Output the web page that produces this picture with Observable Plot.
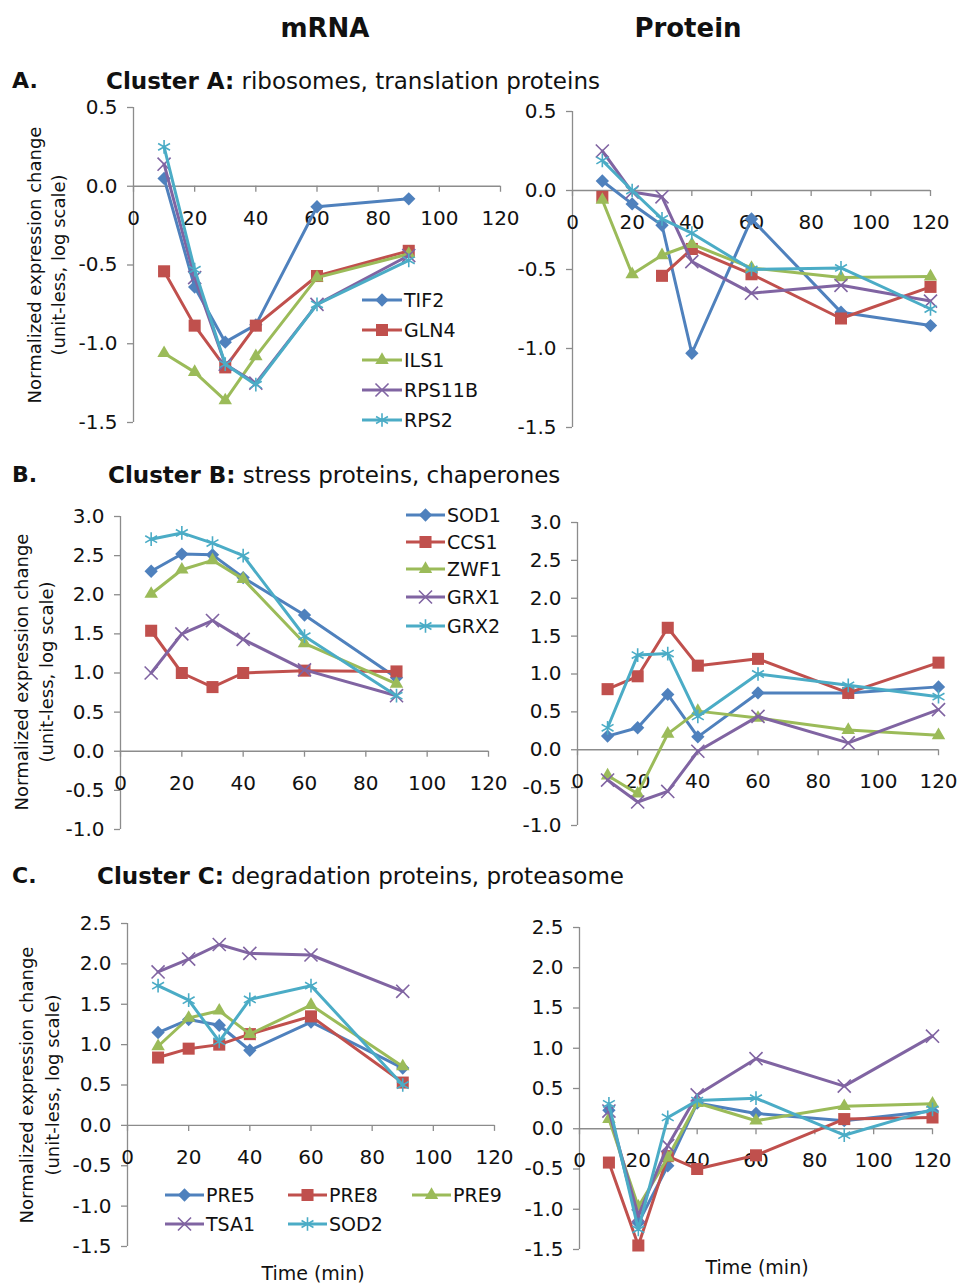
<!DOCTYPE html>
<html><head><meta charset="utf-8">
<script src="https://cdn.jsdelivr.net/npm/d3@7"></script>
<script src="https://cdn.jsdelivr.net/npm/@observablehq/plot@0.6"></script>
<style>
body{margin:0;background:#fff;}
#root{position:relative;width:958px;height:1284px;overflow:hidden;background:#fff;font-family:"DejaVu Sans",sans-serif;color:#111;}
.lbl{position:absolute;white-space:nowrap;line-height:1;}
</style></head><body><div id="root"></div>
<script>
// ---------- data ----------
const timesMrna = [10, 20, 30, 40, 60, 90];
const timesProtein = [10, 20, 30, 40, 60, 90, 120];
const xTicks = [0, 20, 40, 60, 80, 100, 120];
const genesA = ["TIF2", "GLN4", "ILS1", "RPS11B", "RPS2"];
const genesB = ["SOD1", "CCS1", "ZWF1", "GRX1", "GRX2"];
const genesC = ["PRE5", "PRE8", "PRE9", "TSA1", "SOD2"];
const seriesColors = ["#4F81BD", "#C0504D", "#9BBB59", "#8064A2", "#4BACC6"];
const seriesSymbols = ["diamond2", "square", "triangle", "times", "asterisk"];
const yTicksA = [-1.5, -1.0, -0.5, 0.0, 0.5];
const yTicksB = [-1.0, -0.5, 0.0, 0.5, 1.0, 1.5, 2.0, 2.5, 3.0];
const yTicksC = [-1.5, -1.0, -0.5, 0.0, 0.5, 1.0, 1.5, 2.0, 2.5];

// Cluster A (rows follow genesA)
const mrnaA = [
  [0.05, -0.64, -0.99, -0.88, -0.13, -0.08],
  [-0.54, -0.885, -1.15, -0.885, -0.57, -0.41],
  [-1.06, -1.18, -1.36, -1.08, -0.58, -0.43],
  [0.14, -0.58, -1.13, -1.25, -0.75, -0.44],
  [0.25, -0.53, -1.13, -1.26, -0.75, -0.47]
];
const proteinA = [
  [0.06, -0.085, -0.22, -1.03, -0.18, -0.77, -0.855],
  [-0.04, null, -0.54, -0.37, -0.53, -0.81, -0.61],
  [-0.06, -0.53, -0.41, -0.34, -0.49, -0.55, -0.545],
  [0.25, -0.01, -0.04, -0.45, -0.65, -0.60, -0.70],
  [0.19, 0.0, -0.18, -0.27, -0.50, -0.49, -0.75]
];
// Cluster B (rows follow genesB)
const mrnaB = [
  [2.30, 2.52, 2.51, 2.22, 1.74, 0.94],
  [1.54, 1.00, 0.82, 1.00, 1.03, 1.02],
  [2.01, 2.32, 2.44, 2.20, 1.38, 0.86],
  [1.00, 1.50, 1.67, 1.43, 1.04, 0.71],
  [2.71, 2.79, 2.66, 2.50, 1.47, 0.71]
];
const proteinB = [
  [0.18, 0.29, 0.73, 0.17, 0.75, 0.75, 0.83],
  [0.80, 0.97, 1.61, 1.11, 1.20, 0.75, 1.15],
  [-0.34, -0.58, 0.21, 0.51, 0.42, 0.26, 0.19],
  [-0.40, -0.69, -0.55, -0.02, 0.44, 0.09, 0.53],
  [0.29, 1.25, 1.27, 0.44, 1.00, 0.85, 0.70]
];
// Cluster C (rows follow genesC)
const mrnaC = [
  [1.15, 1.31, 1.24, 0.93, 1.28, 0.71],
  [0.84, 0.95, 1.00, 1.13, 1.35, 0.53],
  [0.98, 1.33, 1.42, 1.13, 1.49, 0.73],
  [1.90, 2.06, 2.24, 2.13, 2.11, 1.66],
  [1.73, 1.55, 1.04, 1.56, 1.73, 0.50]
];
const proteinC = [
  [0.23, -1.17, -0.46, 0.32, 0.19, 0.10, 0.22],
  [-0.42, -1.45, -0.34, -0.50, -0.33, 0.12, 0.14],
  [0.12, -0.97, -0.36, 0.32, 0.10, 0.28, 0.31],
  [0.22, -1.08, -0.21, 0.42, 0.87, 0.53, 1.15],
  [0.31, -1.25, 0.14, 0.35, 0.38, -0.08, 0.24]
];

// ---------- layout ----------
const root = document.getElementById("root");
const FONT = '"DejaVu Sans", sans-serif';
const AXIS = "#8c8c8c";
const symbolR = {diamond2: 6.0, square: 6.8, triangle: 5.0, times: 6.0, asterisk: 6.5};

function panel(frame, times, values, genes, yTicks) {
  const L = 100, R = 40, T = 30, B = 40;
  const w = frame.x1 - frame.x0, h = frame.yBot - frame.yTop;
  const yDomain = [yTicks[0], yTicks[yTicks.length - 1]];
  const tickLen = (yDomain[1] - yDomain[0]) * 6 / h;
  const marks = [
    Plot.ruleY([0], {stroke: AXIS, strokeWidth: 1.3}),
    Plot.ruleX([0], {stroke: AXIS, strokeWidth: 1.3}),
    Plot.ruleX(xTicks, {x: d => d, y1: 0, y2: -tickLen, stroke: AXIS, strokeWidth: 1.3}),
    Plot.axisY({ticks: yTicks, tickFormat: d => d.toFixed(1), tickSize: 6, tickPadding: 10,
      stroke: AXIS, strokeWidth: 1.3, fill: "#111", label: null}),
    Plot.text(xTicks, {x: d => d, y: 0, dy: 32, text: d => String(d), fill: "#111"})
  ];
  genes.forEach((g, i) => {
    const rows = times.map((t, j) => ({t, v: values[i][j] == null ? NaN : values[i][j], gene: g}));
    const sym = seriesSymbols[i];
    const stroked = sym === "times" || sym === "asterisk";
    marks.push(Plot.line(rows, {x: "t", y: "v", stroke: seriesColors[i], strokeWidth: 3}));
    marks.push(Plot.dot(rows.filter(d => !isNaN(d.v)), {
      x: "t", y: "v", symbol: sym, r: symbolR[sym],
      fill: stroked ? "none" : seriesColors[i],
      stroke: stroked ? seriesColors[i] : "none",
      strokeWidth: stroked ? 1.6 : 0
    }));
  });
  const svg = Plot.plot({
    width: w + L + R, height: h + T + B,
    marginLeft: L, marginRight: R, marginTop: T, marginBottom: B,
    x: {domain: [0, 120], axis: null},
    y: {domain: yDomain},
    style: {fontFamily: FONT, fontSize: "20px", overflow: "visible", background: "transparent", color: "#111"},
    marks
  });
  svg.style.position = "absolute";
  svg.style.left = (frame.x0 - L) + "px";
  svg.style.top = (frame.yTop - T) + "px";
  svg.style.maxWidth = "none";
  root.appendChild(svg);
}

panel({x0: 133, x1: 500, yTop: 107, yBot: 422}, timesMrna, mrnaA, genesA, yTicksA);
panel({x0: 572, x1: 930, yTop: 111, yBot: 427}, timesProtein, proteinA, genesA, yTicksA);
panel({x0: 120, x1: 488, yTop: 516, yBot: 829}, timesMrna, mrnaB, genesB, yTicksB);
panel({x0: 577, x1: 938, yTop: 522, yBot: 825}, timesProtein, proteinB, genesB, yTicksB);
panel({x0: 127, x1: 494, yTop: 923, yBot: 1246}, timesMrna, mrnaC, genesC, yTicksC);
panel({x0: 579, x1: 932, yTop: 927, yBot: 1249}, timesProtein, proteinC, genesC, yTicksC);

// ---------- text ----------
function label(html, x, y, css, anchor) {
  const d = document.createElement("div");
  d.className = "lbl";
  d.innerHTML = html;
  d.style.left = x + "px";
  d.style.top = y + "px";
  Object.assign(d.style, css || {});
  d.style.transform = anchor === "center" ? "translate(-50%,-50%)" :
                      anchor === "rot" ? "translate(-50%,-50%) rotate(-90deg)" : "translate(0,-50%)";
  root.appendChild(d);
}
label("mRNA", 325, 28, {fontWeight: "bold", fontSize: "26px"}, "center");
label("Protein", 688, 28, {fontWeight: "bold", fontSize: "26px"}, "center");
label("A.", 12, 81, {fontWeight: "bold", fontSize: "22px"});
label("B.", 12, 475, {fontWeight: "bold", fontSize: "22px"});
label("C.", 12, 876, {fontWeight: "bold", fontSize: "22px"});
label("<b>Cluster A:</b> ribosomes, translation proteins", 106, 81, {fontSize: "23px"});
label("<b>Cluster B:</b> stress proteins, chaperones", 108, 475, {fontSize: "23px"});
label("<b>Cluster C:</b> degradation proteins, proteasome", 97, 876, {fontSize: "23px"});

const yl1 = "Normalized expression change", yl2 = "(unit-less, log scale)";
[[35, 59, 265], [22, 47, 672], [27, 53, 1085]].forEach(([a, b, c]) => {
  label(yl1, a, c, {fontSize: "18px"}, "rot");
  label(yl2, b, c, {fontSize: "18px"}, "rot");
});
label("Time (min)", 313, 1273, {fontSize: "19px"}, "center");
label("Time (min)", 757, 1267, {fontSize: "19px"}, "center");

// ---------- legends ----------
const ov = d3.select(root).append("svg")
  .attr("width", 958).attr("height", 1284)
  .style("position", "absolute").style("left", 0).style("top", 0)
  .style("pointer-events", "none").style("font-family", FONT).style("font-size", "19px");
const d3sym = {diamond2: d3.symbolDiamond2, square: d3.symbolSquare, triangle: d3.symbolTriangle,
               times: d3.symbolTimes, asterisk: d3.symbolAsterisk};
function legendItem(name, i, x0, x1, tx, y) {
  const g = ov.append("g");
  const c = seriesColors[i], sym = seriesSymbols[i];
  const stroked = sym === "times" || sym === "asterisk";
  g.append("line").attr("x1", x0).attr("x2", x1).attr("y1", y).attr("y2", y)
    .attr("stroke", c).attr("stroke-width", 3);
  const r = symbolR[sym];
  g.append("path").attr("d", d3.symbol(d3sym[sym], Math.PI * r * r)())
    .attr("transform", `translate(${(x0 + x1) / 2},${y})`)
    .attr("fill", stroked ? "none" : c).attr("stroke", stroked ? c : "none").attr("stroke-width", 1.6);
  g.append("text").attr("x", tx).attr("y", y).attr("dy", "0.36em").attr("fill", "#111").text(name);
}
const legAy = [300, 330, 360, 390, 420];
genesA.forEach((g, i) => legendItem(g, i, 362, 402, 404, legAy[i]));
const legBy = [515, 542, 569, 597, 626];
genesB.forEach((g, i) => legendItem(g, i, 406, 445, 447, legBy[i]));
const legCx0 = [165, 288, 412, 165, 288], legCy = [1195, 1195, 1195, 1224, 1224];
genesC.forEach((g, i) => legendItem(g, i, legCx0[i], legCx0[i] + 39, legCx0[i] + 41, legCy[i]));
</script></body></html>
